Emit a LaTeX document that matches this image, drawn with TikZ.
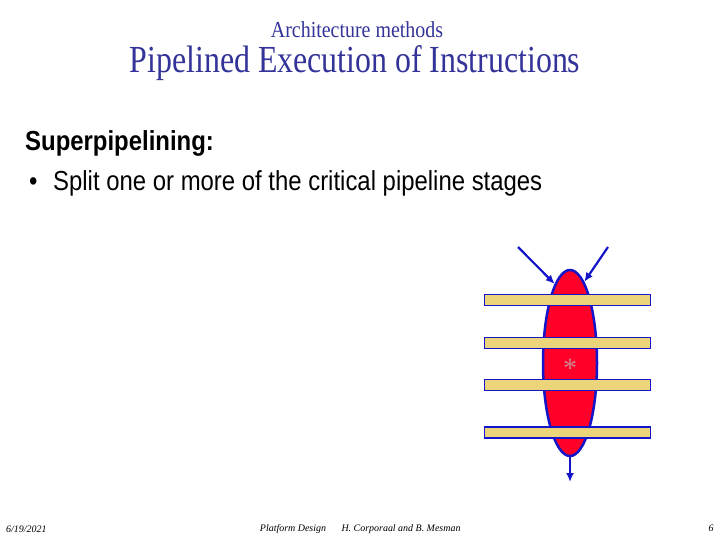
\documentclass[tikz,border=0pt]{standalone}
\usepackage{fontspec}
\setmainfont{Liberation Serif}
\setsansfont{Liberation Sans}
\usepackage{xcolor}
\usetikzlibrary{shapes.geometric,arrows.meta}
\definecolor{titre}{RGB}{51,51,153}
\definecolor{bleu}{RGB}{20,20,200}
\definecolor{rouge}{RGB}{255,0,40}
\definecolor{sable}{RGB}{236,212,122}
\definecolor{etoile}{RGB}{205,135,145}

\begin{document}
\begin{tikzpicture}[
  x=1bp, y=-1bp,
  operation/.style = {ellipse, draw=bleu, fill=rouge, line width=2.5bp,
                      minimum width=54bp, minimum height=186bp, inner sep=0pt},
  registre/.style  = {rectangle, draw=bleu, fill=sable, line width=1.8bp,
                      minimum width=166bp, minimum height=11bp, inner sep=0pt},
  fleche/.style    = {-{Latex[length=9bp,width=8bp]}, draw=bleu, line width=2.2bp},
  texte/.style     = {inner sep=0pt},
  pied/.style      = {font=\fontsize{10}{11}\selectfont\itshape, anchor=base, inner sep=0pt}
]
\useasboundingbox (0,0) rectangle (720,540);
% titles
\node[texte, text=titre, font=\fontsize{20}{22}\selectfont] (sur) at (357,30)
  {\scalebox{1}[1.15]{Architecture methods}};
\node[texte, text=titre, font=\fontsize{32}{36}\selectfont] (titre) at (355,63)
  {\scalebox{1}[1.2]{Pipelined Execution of Instructions}};
\node[texte, anchor=west, font=\sffamily\bfseries\fontsize{24}{28}\selectfont] (sous) at (25,143)
  {\scalebox{1}[1.15]{Superpipelining:}};
\node[texte, anchor=west, font=\sffamily\fontsize{24}{28}\selectfont] (puce) at (29,183)
  {\scalebox{1}[1.15]{\makebox[24bp][l]{\textbullet}Split one or more of the critical pipeline stages}};
% pipeline stage
\node[operation] (op) at (570,363) {};
\node[registre] (r1) at (567.5,300) {};
\node[registre] (r2) at (567.5,343) {};
\node[registre] (r3) at (567.5,385) {};
\node[registre] (r4) at (567.5,432.5) {};
\node[texte, text=etoile, font=\fontsize{28}{28}\selectfont] (mul) at (570,368) {*};
\coordinate (inA) at (518,247);
\coordinate (inB) at (608,247);
\coordinate (sortie) at (570,482);
\draw[fleche] (inA) -- (op.101);
\draw[fleche] (inB) -- (op.80);
\draw[fleche] (op.south) -- (sortie);
% footer
\node[pied, anchor=base west] (date) at (6,532) {6/19/2021};
\node[pied] (cours) at (293,531) {Platform Design};
\node[pied] (auteurs) at (401,531) {H. Corporaal and B. Mesman};
\node[pied] (page) at (711,531) {6};
\end{tikzpicture}
\end{document}
